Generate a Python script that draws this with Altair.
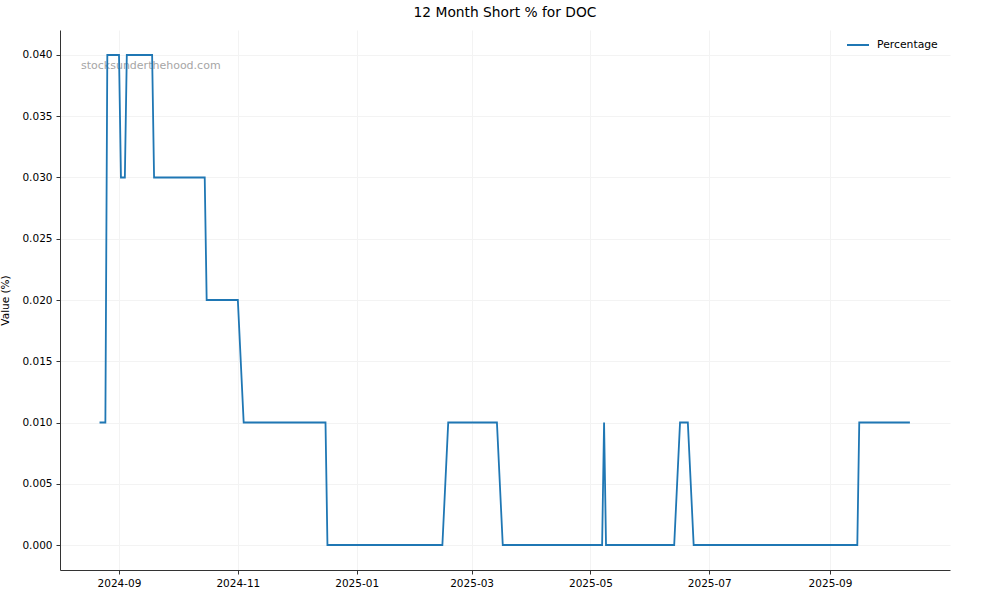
import altair as alt
import pandas as pd

# Short interest history for DOC (step changes drawn as straight segments)
dates = [
    "2024-08-22", "2024-08-25", "2024-08-26", "2024-09-01", "2024-09-02",
    "2024-09-04", "2024-09-05", "2024-09-18", "2024-09-19", "2024-10-15",
    "2024-10-16", "2024-11-01", "2024-11-04", "2024-12-16", "2024-12-17",
    "2025-02-14", "2025-02-17", "2025-03-14", "2025-03-17", "2025-05-07",
    "2025-05-08", "2025-05-09", "2025-06-13", "2025-06-16", "2025-06-20",
    "2025-06-23", "2025-09-15", "2025-09-16", "2025-10-12",
]
values = [
    0.01, 0.01, 0.04, 0.04, 0.03,
    0.03, 0.04, 0.04, 0.03, 0.03,
    0.02, 0.02, 0.01, 0.01, 0.00,
    0.00, 0.01, 0.01, 0.00, 0.00,
    0.01, 0.00, 0.00, 0.01, 0.01,
    0.00, 0.00, 0.01, 0.01,
]
series_name = "Percentage"
tick_months = [(2024, 9), (2024, 11), (2025, 1), (2025, 3), (2025, 5), (2025, 7), (2025, 9)]
y_ticks = [0.0, 0.005, 0.01, 0.015, 0.02, 0.025, 0.03, 0.035, 0.04]

df = pd.DataFrame({"date": dates, "value": values, "series": series_name})

FONT = "DejaVu Sans"

x_scale = alt.Scale(
    type="utc",
    domain=[
        alt.DateTime(year=2024, month=8, date=1, hours=17, utc=True),
        alt.DateTime(year=2025, month=11, date=1, hours=14, utc=True),
    ],
    nice=False,
)
x_axis = alt.Axis(
    values=[alt.DateTime(year=y, month=m, date=1, utc=True) for y, m in tick_months],
    format="%Y-%m",
    title=None,
    grid=True,
    gridColor="#f3f3f3",
    labelFontSize=10.5,
    labelPadding=4,
    tickSize=4,
)
y_axis = alt.Axis(
    values=y_ticks,
    format=".3f",
    title="Value (%)",
    titleFontSize=10.5,
    titleFontWeight="normal",
    titleAngle=-90,
    titleX=-55,
    titleY=270,
    titleAlign="center",
    titleBaseline="middle",
    grid=True,
    gridColor="#f3f3f3",
    labelFontSize=10.5,
    labelPadding=4,
    tickSize=4,
)

# Site watermark, drawn beneath the data line
watermark = alt.Chart(pd.DataFrame({"t": ["stocksunderthehood.com"]})).mark_text(
    align="left", baseline="middle", fontSize=11, color="#a6a6a6", font=FONT
).encode(text="t:N", x=alt.value(21), y=alt.value(36))

line = alt.Chart(df).mark_line(strokeWidth=1.8).encode(
    x=alt.X("date:T", scale=x_scale, axis=x_axis),
    y=alt.Y("value:Q", scale=alt.Scale(domain=[-0.00204, 0.04204], nice=False, zero=False), axis=y_axis),
    color=alt.Color(
        "series:N",
        scale=alt.Scale(domain=[series_name], range=["#1f77b4"]),
        legend=alt.Legend(
            title=None,
            orient="none",
            legendX=786,
            legendY=3,
            symbolType="stroke",
            symbolSize=484,
            symbolStrokeWidth=2,
            labelFontSize=10.8,
            labelFont=FONT,
            labelOffset=7,
        ),
    ),
)

chart = (
    alt.layer(watermark, line)
    .properties(
        width=890,
        height=540,
        title=alt.TitleParams("12 Month Short % for DOC", fontSize=13.8, fontWeight="normal", font=FONT, offset=10, color="#000000"),
        autosize=alt.AutoSizeParams(type="none"),
        padding={"left": 60, "top": 30, "right": 50, "bottom": 30},
    )
    .configure(font=FONT)
    .configure_view(stroke=None)
    .configure_axis(
        domainColor="#333333",
        tickColor="#333333",
        labelColor="#000000",
        titleColor="#000000",
        labelFont=FONT,
        titleFont=FONT,
    )
)

chart.save("out.html", embed_options={"renderer": "svg", "actions": False})
